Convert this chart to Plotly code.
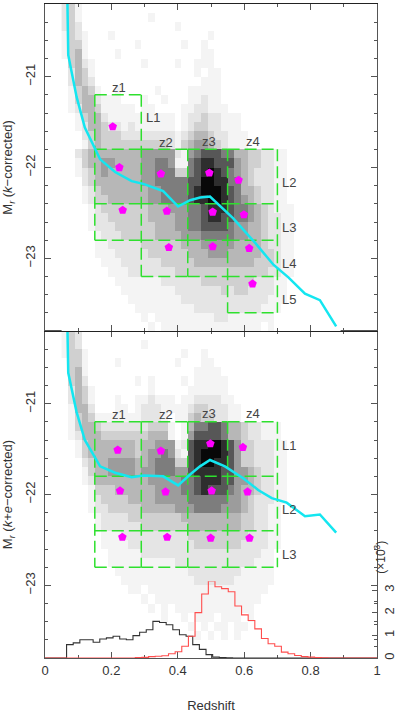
import plotly.graph_objects as go

# 2-d number density (grey levels 0-9), one string per 0.1 mag row, top row = -20.2..-20.3
# columns are 0.02 wide in redshift, starting at z = 0.05
density_k = [
    "2 31000 00000 00000 00000 00000 00000 00000 00000 0",
    "2 31000 00000 00100 00000 00000 00000 00000 00000 0",
    "2 32000 00000 00000 01000 00000 00000 00000 00000 0",
    "1 32100 01000 00000 00000 01000 00000 00000 00000 0",
    "1 33100 00000 10000 00100 10000 00000 00000 00000 0",
    "1 34100 00100 00000 00000 11000 00000 00000 00000 0",
    "0 34210 00000 01000 01001 11000 00000 00000 00000 0",
    "0 24310 00000 00000 00001 01100 00000 00000 00000 0",
    "0 24320 00000 00000 00000 11100 00000 00000 00000 0",
    "0 13431 00100 00010 00011 11100 00000 00000 00000 0",
    "0 13442 11100 01001 00011 21100 00000 00000 00000 0",
    "0 12443 11111 01100 00112 21110 00000 00000 00000 0",
    "0 01344 21111 11111 10122 32211 10000 00000 00000 0",
    "0 01244 32212 11111 10123 32211 10000 00000 00000 0",
    "0 00234 33322 22222 21234 43221 11000 00000 00000 0",
    "0 00134 33333 33333 21345 54321 11000 00000 00000 0",
    "0 02344 44444 45555 52156 77766 44332 21100 00000 0",
    "0 01344 55444 45566 51167 88777 54332 21100 00000 0",
    "0 01234 54444 45566 63367 89876 54322 21100 00000 0",
    "0 00234 44444 45566 66677 99886 64322 21100 00000 0",
    "0 00123 44444 44556 66678 99987 64432 21100 00000 0",
    "0 00123 34444 44556 66678 89987 65432 21100 00000 0",
    "0 00012 33333 33444 55566 78887 66543 21110 00000 0",
    "0 00012 23333 33444 45566 78877 66543 22110 00000 0",
    "0 00012 22333 33344 45566 77776 55443 22110 00000 0",
    "0 00001 22233 33344 44555 66666 55443 22110 00000 0",
    "0 00001 12222 23333 33444 55555 44443 22110 00000 0",
    "0 00001 11222 22333 33344 45554 44443 32110 00000 0",
    "0 00000 11122 22223 33334 44444 44433 32110 00000 0",
    "0 00000 01112 22222 23333 33333 33333 22110 00000 0",
    "0 00000 00111 11112 22222 33333 33322 21100 00000 0",
    "0 00000 00011 11111 12222 22232 33222 21100 00000 0",
    "0 00000 00001 11111 11222 22222 22222 11100 00000 0",
    "0 00000 00000 11111 11112 22222 22221 11000 00000 0",
    "0 00000 00000 01011 11111 11221 11111 10000 00000 0",
    "0 00000 00000 00101 11111 11111 11110 10000 00000 0",
]

density_ke = [
    "1 32000 00000 00000 00000 00000 00000 00000 00000 0",
    "1 32000 00000 01000 00000 00000 00000 00000 00000 0",
    "1 33100 00000 00000 00100 10000 00000 00000 00000 0",
    "0 33100 00100 00000 01000 11000 00000 00000 00000 0",
    "0 34100 00000 00000 00001 11100 00000 00000 00000 0",
    "0 34200 00000 10100 00101 11110 00000 00000 00000 0",
    "0 24310 00000 00100 00011 11110 00000 00000 00000 0",
    "0 24310 00100 11211 10112 22211 00000 00000 00000 0",
    "0 14420 00110 12221 11123 32221 10000 00000 00000 0",
    "0 13431 11111 12221 01134 33221 10000 00000 00000 0",
    "0 13443 22222 22333 10146 67764 43221 11000 00000 0",
    "0 12444 33333 33444 10157 77764 43221 11000 00000 0",
    "0 01344 44444 34455 51278 89987 53322 21100 00000 0",
    "0 01344 44444 34556 52178 99987 53322 21100 00000 0",
    "0 00234 45555 44566 63378 99887 53322 21100 00000 0",
    "0 00134 45555 45566 65578 88877 55432 21100 00000 0",
    "0 00124 44444 44555 55667 88877 55432 21100 00000 0",
    "0 00013 33444 44455 55667 87776 54432 21100 00000 0",
    "0 00012 33334 44455 55566 66665 54322 21100 00000 0",
    "0 00012 23333 34444 45556 66655 54322 11000 00000 0",
    "0 00001 22223 33333 33444 44444 43322 11000 00000 0",
    "0 00001 22222 23333 33344 44444 43322 11000 00000 0",
    "0 00000 11122 22222 22233 33333 33222 11000 00000 0",
    "0 00000 11112 22222 22223 33333 32222 11000 00000 0",
    "0 00000 01111 12222 22222 22222 22221 10000 00000 0",
    "0 00000 01111 11111 12222 22222 22211 10000 00000 0",
    "0 00000 00111 11111 11122 22222 21111 10000 00000 0",
    "0 00000 00011 11111 11112 22222 11111 10000 00000 0",
    "0 00000 00001 10111 11111 11111 11111 00000 00000 0",
    "0 00000 00000 01011 11111 11111 11110 00000 00000 0",
    "0 00000 00000 00101 01111 11111 11100 00000 00000 0",
    "0 00000 00000 00001 00101 11011 10100 00000 00000 0",
    "0 00000 00000 00000 00010 10110 11000 00000 00000 0",
    "0 00000 00000 00000 00001 01010 10000 00000 00000 0",
    "0 00000 00000 00000 00000 00000 00000 00000 00000 0",
    "0 00000 00000 00000 00000 00000 00000 00000 00000 0",
]

grid_z = [round(0.06 + 0.02 * i, 2) for i in range(42)]
grid_mag = [round(-20.25 - 0.1 * j, 2) for j in range(36)]

# magnitude limit curves
limit_z = [0.067, 0.070, 0.095, 0.120, 0.166, 0.211, 0.261, 0.296, 0.356, 0.401, 0.437,
           0.467, 0.497, 0.567, 0.633, 0.688, 0.733, 0.783, 0.828, 0.877]
limit_k = [-20.05, -20.76, -21.22, -21.56, -21.91, -22.05, -22.15, -22.18, -22.26, -22.43, -22.36,
           -22.33, -22.32, -22.56, -22.83, -23.07, -23.21, -23.39, -23.46, -23.75]
limit_ke_z = [0.067, 0.070, 0.095, 0.120, 0.166, 0.211, 0.261, 0.296, 0.356, 0.401, 0.437,
              0.467, 0.497, 0.542, 0.597, 0.642, 0.683, 0.728, 0.783, 0.828, 0.877]
limit_ke = [-20.05, -20.66, -21.09, -21.40, -21.69, -21.76, -21.81, -21.79, -21.80, -21.90, -21.78,
            -21.69, -21.62, -21.69, -21.82, -21.95, -22.04, -22.09, -22.24, -22.22, -22.42]

# sample bins
bin_z = [0.15, 0.29, 0.43, 0.55, 0.70]
bin_mag_k = [-21.2, -21.8, -22.4, -22.8, -23.2, -23.6]
bin_rows_k = [(0, 3), (1, 4), (1, 4), (1, 5)]
bin_mag_ke = [-21.2, -21.8, -22.4, -22.8]
bin_rows_ke = [(0, 3), (0, 3), (0, 3), (0, 3)]

# median points of each bin
med_k_z = [0.204, 0.224, 0.234, 0.349, 0.367, 0.373, 0.495, 0.505, 0.505, 0.583, 0.599, 0.615, 0.625]
med_k_mag = [-21.55, -22.00, -22.47, -22.07, -22.48, -22.88, -22.06, -22.49, -22.87, -22.14, -22.52, -22.89, -23.28]
med_ke_z = [0.219, 0.226, 0.233, 0.349, 0.363, 0.368, 0.498, 0.502, 0.499, 0.596, 0.610, 0.616]
med_ke_mag = [-21.51, -21.96, -22.47, -21.52, -21.97, -22.47, -21.44, -21.96, -22.48, -21.48, -21.97, -22.48]

# bin labels
zlab_names = ["z1", "z2", "z3", "z4"]
zlab_k = [(0.222, -21.12), (0.363, -21.72), (0.494, -21.71), (0.625, -21.71)]
zlab_ke = [(0.222, -21.12), (0.363, -21.12), (0.494, -21.11), (0.625, -21.11)]
llab_k = [("L1", 0.324, -21.45), ("L2", 0.736, -22.16), ("L3", 0.736, -22.66),
          ("L4", 0.736, -23.06), ("L5", 0.736, -23.45)]
llab_ke = [("L1", 0.734, -21.46), ("L2", 0.736, -22.16), ("L3", 0.736, -22.66)]

# redshift histograms (x10^3), 0.02 wide bins
hist_black_start = 0.065
hist_black = [0.59, 0.67, 0.81, 0.81, 0.70, 0.84, 0.89, 0.96, 0.84, 0.81, 0.99, 1.14, 1.25,
              1.62, 1.57, 1.47, 1.25, 1.03, 0.96, 0.59, 0.38, 0.15, 0.04, 0.02, 0.01]
hist_red_start = 0.272
hist_red = [0.02, 0.03, 0.06, 0.08, 0.10, 0.19, 0.28, 0.52, 0.96, 2.01, 2.83, 3.41, 3.15, 3.07,
            2.93, 2.30, 1.91, 1.66, 1.29, 0.86, 0.63, 0.52, 0.26, 0.19, 0.11, 0.06, 0.04, 0.02, 0.01]

FONT = "Liberation Sans, Arial, sans-serif"
GREEN = "#2ee02e"
CYAN = "#14e6f0"
MAGENTA = "#ff00ff"

greys = [[0, "#ffffff"], [1 / 9, "#f4f4f4"], [2 / 9, "#e5e5e5"], [3 / 9, "#d0d0d0"],
         [4 / 9, "#b7b7b7"], [5 / 9, "#9c9c9c"], [6 / 9, "#7d7d7d"], [7 / 9, "#575757"],
         [8 / 9, "#2e2e2e"], [1, "#080808"]]


def to_matrix(rows):
    out = []
    for r in rows:
        s = (r.replace(" ", "") + "0" * 42)[:42]
        out.append([int(ch) for ch in s])
    return out


def box_lines(zedges, medges, rows):
    # unique dashed segments outlining the bin grid
    xs, ys = [], []
    for i, (a, b) in enumerate(rows):
        for j in range(a, b + 1):
            xs += [zedges[i], zedges[i + 1], None]
            ys += [medges[j], medges[j], None]
    for k, z in enumerate(zedges):
        spans = []
        for i in (k - 1, k):
            if 0 <= i < len(rows):
                spans.append(rows[i])
        lo = min(s[0] for s in spans)
        hi = max(s[1] for s in spans)
        xs += [z, z, None]
        ys += [medges[lo], medges[hi], None]
    return xs, ys


def step(start, counts):
    edges = [round(start + 0.02 * i, 3) for i in range(len(counts) + 1)]
    return [0.0] + edges + [1.0], [0.0] + counts + [0.0, 0.0]


fig = go.Figure()

panels = [
    ("x2", "y2", density_k, limit_z, limit_k, bin_mag_k, bin_rows_k, med_k_z, med_k_mag),
    ("x", "y", density_ke, limit_ke_z, limit_ke, bin_mag_ke, bin_rows_ke, med_ke_z, med_ke_mag),
]
for xa, ya, dens, lz, lm, medges, rows, mz, mm in panels:
    fig.add_trace(go.Heatmap(z=to_matrix(dens), x=grid_z, y=grid_mag, colorscale=greys,
                             zmin=0, zmax=9, showscale=False, hoverinfo="skip",
                             xaxis=xa, yaxis=ya))
    bx, by = box_lines(bin_z, medges, rows)
    fig.add_trace(go.Scatter(x=bx, y=by, mode="lines", line=dict(color=GREEN, width=1.5, dash="12px,5px"),
                             xaxis=xa, yaxis=ya, showlegend=False, hoverinfo="skip"))
    fig.add_trace(go.Scatter(x=lz, y=lm, mode="lines", line=dict(color=CYAN, width=2.5),
                             xaxis=xa, yaxis=ya, showlegend=False))
    fig.add_trace(go.Scatter(x=mz, y=mm, mode="markers",
                             marker=dict(symbol="pentagon", size=9, color=MAGENTA),
                             xaxis=xa, yaxis=ya, showlegend=False))

hx, hy = step(hist_black_start, hist_black)
fig.add_trace(go.Scatter(x=hx, y=hy, mode="lines", line=dict(color="#333333", width=1.1, shape="hv"),
                         xaxis="x", yaxis="y3", showlegend=False))
hx, hy = step(hist_red_start, hist_red)
fig.add_trace(go.Scatter(x=hx, y=hy, mode="lines", line=dict(color="#ff4d4d", width=1.1, shape="hv"),
                         xaxis="x", yaxis="y3", showlegend=False))

annots = []
for (name, (zx, my)) in zip(zlab_names, zlab_k):
    annots.append(dict(x=zx, y=my, xref="x2", yref="y2", text=name, showarrow=False))
for (name, (zx, my)) in zip(zlab_names, zlab_ke):
    annots.append(dict(x=zx, y=my, xref="x", yref="y", text=name, showarrow=False))
for name, zx, my in llab_k:
    annots.append(dict(x=zx, y=my, xref="x2", yref="y2", text=name, showarrow=False))
for name, zx, my in llab_ke:
    annots.append(dict(x=zx, y=my, xref="x", yref="y", text=name, showarrow=False))
for a in annots:
    a["font"] = dict(size=13, color="#444444", family=FONT)
annots.append(dict(x=1, y=0.125, xref="paper", yref="paper", xshift=13, text="(×10<sup>3</sup>)",
                   textangle=-90, showarrow=False, font=dict(size=12, color="#333333", family=FONT)))

axis_common = dict(showgrid=False, zeroline=False, showline=True, linecolor="#555555", linewidth=1.2,
                   ticks="inside", tickcolor="#555555", mirror="ticks")
xcommon = dict(axis_common, range=[0, 1], dtick=0.2, ticklen=6,
               minor=dict(dtick=0.1, ticklen=3, ticks="inside", tickcolor="#555555"))
ycommon = dict(axis_common, range=[-23.8, -20.2], tickvals=[-21, -22, -23], ticklen=6, tickangle=-90,
               ticklabelstandoff=4,
               minor=dict(dtick=0.2, ticklen=3, ticks="inside", tickcolor="#555555"),
               tickfont=dict(size=13, color="#333333", family=FONT), automargin=False)

fig.update_layout(
    width=399, height=714,
    margin=dict(l=45, r=22, t=3, b=49),
    paper_bgcolor="white", plot_bgcolor="rgba(0,0,0,0)",
    font=dict(family=FONT, color="#333333", size=13),
    showlegend=False,
    xaxis=dict(xcommon, anchor="y", domain=[0, 1],
               tickfont=dict(size=13, color="#333333", family=FONT),
               title=dict(text="Redshift", standoff=24, font=dict(size=13, family=FONT))),
    xaxis2=dict(xcommon, anchor="y2", matches="x", showticklabels=False, linecolor="#222222"),
    yaxis=dict(ycommon, domain=[0, 0.5], anchor="x",
               title=dict(text="M<sub><i>r</i></sub> (<i>k</i>+<i>e</i>−corrected)", standoff=9,
                          font=dict(size=13, family=FONT))),
    yaxis2=dict(ycommon, domain=[0.5, 1], anchor="x2",
                title=dict(text="M<sub><i>r</i></sub> (<i>k</i>−corrected)", standoff=9,
                           font=dict(size=13, family=FONT))),
    yaxis3=dict(showgrid=False, zeroline=False, domain=[0, 0.1175], anchor="x", side="right",
                range=[0, 3.4], tickvals=[0, 1, 2, 3], ticks="inside", ticklen=5, tickangle=-90,
                showline=True, linecolor="#555555", linewidth=1.2, tickcolor="#555555",
                minor=dict(dtick=0.5, ticklen=3, ticks="inside", tickcolor="#555555"),
                tickfont=dict(size=13, color="#333333", family=FONT), automargin=False),
    annotations=annots,
)

fig.write_html("out.html", config={"displayModeBar": False},
               post_script="document.body.style.margin='0';")
